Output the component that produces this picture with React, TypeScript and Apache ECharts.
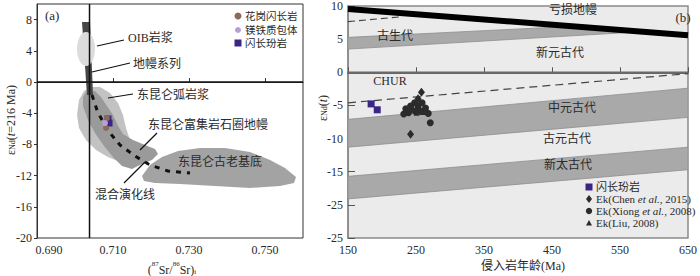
import { useEffect, useRef } from 'react';
import * as echarts from 'echarts';

// ---------- axis ticks ----------
const SR_TICKS = [0.69, 0.71, 0.73, 0.75];
const ENDA_TICKS = [-20, -16, -12, -8, -4, 0, 4, 8];
const AGE_TICKS = [150, 250, 350, 450, 550, 650];
const ENDB_TICKS = [10, 5, 0, -5, -10, -15, -20, -25];
const ENDB_TICK_LABELS = ['10', '5', '0', '-5', '-10', '-15', '-25', '-25'];

// ---------- panel (a): (87Sr/86Sr)i vs eNd ----------
const BULK_EARTH_SR = 0.70382;
const MANTLE_ARRAY = [[0.70184, 7.69], [0.70395, 7.69], [0.70474, -1.67], [0.70316, -1.67]];
const OIB_CENTER = [0.70289, 4.23];
const OIB_RADII = [0.00237, 2.18];
const ARC_MAGMA = [
  [0.70395, -0.64], [0.70658, -0.64], [0.70921, -1.41], [0.71132, -2.69], [0.71263, -4.23],
  [0.71342, -5.9], [0.71447, -7.44], [0.71553, -8.72], [0.71447, -9.74], [0.71184, -10.26],
  [0.70868, -9.62], [0.70553, -8.72], [0.70289, -7.44], [0.70105, -5.9], [0.70053, -4.23],
  [0.70105, -2.31], [0.70237, -1.15],
];
const ENRICHED_MANTLE = [
  [0.70289, -1.28], [0.70526, -1.15], [0.70684, -1.92], [0.70842, -3.08], [0.71, -4.23],
  [0.71132, -5.64], [0.71263, -6.67], [0.71526, -7.44], [0.71842, -8.08], [0.72105, -8.59],
  [0.72184, -9.23], [0.72026, -10.0], [0.71763, -10.51], [0.715, -11.15], [0.71237, -10.77],
  [0.71, -9.62], [0.70763, -8.21], [0.70526, -6.54], [0.70342, -4.87], [0.70211, -3.08],
  [0.70211, -1.92],
];
const BASEMENT = [
  [0.71763, -12.05], [0.71974, -10.64], [0.72289, -9.62], [0.72711, -8.85], [0.73289, -8.46],
  [0.73947, -8.46], [0.74605, -8.97], [0.75132, -10.0], [0.75526, -11.03], [0.75816, -12.18],
  [0.75763, -12.95], [0.75395, -13.33], [0.74605, -13.59], [0.73684, -13.33], [0.72763, -13.08],
  [0.72105, -12.95], [0.71816, -12.69],
];
const MIXING_LINE = [
  [0.70447, -1.67], [0.70579, -3.59], [0.70737, -5.13], [0.70921, -6.54], [0.71184, -8.08],
  [0.71579, -9.49], [0.71974, -10.64], [0.72447, -11.41], [0.73026, -11.67],
];
const LEADER_OIB = [[0.70579, 4.62], [0.71289, 5.38]];
const LEADER_MANTLE = [[0.70447, 1.28], [0.71447, 2.44]];
const LEADER_ARC = [[0.70868, -2.05], [0.71526, -1.54]];
const LEADER_ENRICHED = [[0.71711, -8.72], [0.72158, -6.54]];
const LEADER_MIXING = [[0.71289, -12.95], [0.71842, -10.26]];
const GRANODIORITE = [[0.70842, -4.62], [0.70816, -5.9]];
const MME = [[0.70789, -5.26]];
const DIORITE_A = [[0.70868, -4.74], [0.70895, -5.26]];

// ---------- panel (b): age vs eNd(t) ----------
const DM_LINE = [[150, 9.56], [650, 5.57]];
const DM_LOWER = [[150, 7.64], [229, 8.38]];
const CHUR_LINE = [[150, -4.6], [650, -0.2]];
const ZERO_LINE = [[150, 0], [650, 0]];
const PALEOZOIC = [[150, 5.27], [479, 6.93], [581, 6.12], [150, 3.5]];
const MESOPROTEROZOIC = [[150, -7.1], [650, -2.4], [650, -6.8], [150, -11.3]];
const NEOARCHEAN = [[150, -15.7], [650, -11.3], [650, -14.7], [150, -19.1]];
const DIORITE_B = [[184, -4.77], [193, -5.66]];
const EK_CHEN = [[258, -3.0], [242, -9.35], [253, -4.0], [262, -5.8]];
const EK_XIONG = [
  [235, -5.5], [242, -5.1], [248, -4.6], [253, -5.1], [259, -4.6], [264, -5.4], [268, -6.2],
  [271, -7.6], [239, -6.1], [249, -5.9], [256, -5.8], [243, -5.5], [232, -6.3],
];
const EK_LIU = [[251, -6.1], [259, -6.0]];

const SERIF = "'Liberation Serif', 'Noto Sans CJK SC', serif";
const TXT = '#2a2a2a';

function polygonSeries(pts: number[][], idx: number, fill: string, stroke?: string, z = 1) {
  return {
    type: 'custom',
    xAxisIndex: idx,
    yAxisIndex: idx,
    data: pts,
    silent: true,
    z,
    clip: true,
    renderItem: (params: any, api: any) => {
      if (params.dataIndex !== 0) return null;
      return {
        type: 'polygon',
        shape: { points: pts.map((p) => api.coord(p)) },
        style: { fill, stroke: stroke || 'none', lineWidth: stroke ? 0.8 : 0 },
      };
    },
  };
}

function lineSeries(pts: number[][], idx: number, color: string, width: number, type: any = 'solid', z = 3) {
  return {
    type: 'line',
    xAxisIndex: idx,
    yAxisIndex: idx,
    data: pts,
    symbol: 'none',
    silent: true,
    z,
    lineStyle: { color, width, type, cap: 'butt' },
  };
}

function scatterSeries(pts: number[][], idx: number, symbol: string, size: any, color: string, z = 6) {
  return {
    type: 'scatter',
    xAxisIndex: idx,
    yAxisIndex: idx,
    data: pts,
    symbol,
    symbolSize: size,
    itemStyle: { color, opacity: 1 },
    silent: true,
    z,
  };
}

function txt(x: number, y: number, text: string, size = 12, align = 'left', extra: any = {}) {
  return {
    type: 'text',
    x,
    y,
    z: 100,
    silent: true,
    style: { text, fontSize: size, fontFamily: SERIF, fill: TXT, align, verticalAlign: 'middle', ...extra },
  };
}

export default function App() {
  const ref = useRef<HTMLDivElement>(null);
  useEffect(() => {
    if (!ref.current) return;
    const chart = echarts.init(ref.current, null, { renderer: 'svg' });

    const ellipseSeries = {
      type: 'custom',
      xAxisIndex: 0,
      yAxisIndex: 0,
      data: [OIB_CENTER],
      silent: true,
      z: 2,
      renderItem: (params: any, api: any) => {
        const c = api.coord(OIB_CENTER);
        const s = api.size(OIB_RADII);
        return { type: 'ellipse', shape: { cx: c[0], cy: c[1], rx: s[0], ry: s[1] }, style: { fill: '#dcdcdc' } };
      },
    };

    const axisFont = { fontFamily: SERIF, fontSize: 12, color: TXT };

    const option: any = {
      animation: false,
      grid: [
        { left: 37, top: 4, width: 266, height: 234, show: true, borderColor: '#333', borderWidth: 1, backgroundColor: '#fff' },
        { left: 348, top: 1, width: 348, height: 237, show: true, borderColor: '#8a8a8a', borderWidth: 1.5, backgroundColor: '#ebebeb' },
      ],
      xAxis: [
        {
          type: 'value', gridIndex: 0, min: 0.69, max: 0.76,
          axisLine: { show: true, lineStyle: { color: '#333', width: 1 } },
          axisTick: { show: true, customValues: SR_TICKS, inside: true, length: 4, lineStyle: { color: '#333' } },
          axisLabel: {
            ...axisFont, customValues: SR_TICKS, margin: 6,
            formatter: (v: number) => (Math.abs(v - 0.69) < 1e-6 ? '{f|0.690}' : Number(v).toFixed(3)),
            rich: { f: { ...axisFont, padding: [0, 0, 0, 24] } },
          },
          splitLine: { show: false },
        },
        {
          type: 'value', gridIndex: 1, min: 150, max: 650,
          axisLine: { show: true, lineStyle: { color: '#666', width: 2 } },
          axisTick: { show: true, customValues: AGE_TICKS, inside: true, length: 5, lineStyle: { color: '#555' } },
          axisLabel: { ...axisFont, customValues: AGE_TICKS, margin: 6 },
          splitLine: { show: false },
        },
      ],
      yAxis: [
        {
          type: 'value', gridIndex: 0, min: -20, max: 10,
          axisLine: { show: true, lineStyle: { color: '#333', width: 1 } },
          axisTick: { show: true, customValues: ENDA_TICKS, inside: false, length: 3, lineStyle: { color: '#333' } },
          axisLabel: { ...axisFont, customValues: ENDA_TICKS, margin: 5 },
          splitLine: { show: false },
        },
        {
          type: 'value', gridIndex: 1, min: -25, max: 10,
          axisLine: { show: true, lineStyle: { color: '#888', width: 1.5 } },
          axisTick: { show: true, customValues: ENDB_TICKS, inside: true, length: 7, lineStyle: { color: '#555' } },
          axisLabel: {
            ...axisFont, customValues: ENDB_TICKS, margin: 5,
            formatter: (v: number) => {
              const i = ENDB_TICKS.findIndex((t) => Math.abs(t - v) < 1e-6);
              return i >= 0 ? ENDB_TICK_LABELS[i] : '';
            },
          },
          splitLine: { show: false },
        },
      ],
      series: [
        // panel (a)
        polygonSeries(ARC_MAGMA, 0, '#c2c2c2', undefined, 1),
        polygonSeries(ENRICHED_MANTLE, 0, '#9a9a9a', undefined, 1),
        polygonSeries(BASEMENT, 0, '#a3a3a3', undefined, 1),
        polygonSeries(MANTLE_ARRAY, 0, '#474747', undefined, 1),
        ellipseSeries,
        lineSeries([[BULK_EARTH_SR, -20], [BULK_EARTH_SR, 10]], 0, '#111', 1.5, 'solid', 3),
        lineSeries([[0.69, 0], [0.76, 0]], 0, '#111', 1.3, 'solid', 3),
        lineSeries(MIXING_LINE, 0, '#111', 3, [5, 6], 4),
        lineSeries(LEADER_OIB, 0, '#111', 1.2),
        lineSeries(LEADER_MANTLE, 0, '#111', 1.2),
        lineSeries(LEADER_ARC, 0, '#111', 1.2),
        lineSeries(LEADER_ENRICHED, 0, '#111', 1.2),
        lineSeries(LEADER_MIXING, 0, '#111', 1.2),
        scatterSeries(DIORITE_A, 0, 'rect', 7, '#3b2585', 6),
        scatterSeries(GRANODIORITE, 0, 'circle', 6, '#8a6a5a', 7),
        scatterSeries(MME, 0, 'circle', 6, '#b79fd6', 7),
        // panel (b)
        polygonSeries(PALEOZOIC, 1, '#a9a9a9', '#8e8e8e', 1),
        polygonSeries(MESOPROTEROZOIC, 1, '#a9a9a9', '#8e8e8e', 1),
        polygonSeries(NEOARCHEAN, 1, '#a9a9a9', '#8e8e8e', 1),
        lineSeries(ZERO_LINE, 1, '#6a6a6a', 1.5, 'solid', 2),
        lineSeries(CHUR_LINE, 1, '#444', 1.2, [8, 5], 3),
        lineSeries(DM_LOWER, 1, '#444', 1.1, [7, 4], 3),
        lineSeries(DM_LINE, 1, '#000', 6, 'solid', 4),
        scatterSeries(DIORITE_B, 1, 'rect', 7, '#3b2585', 6),
        scatterSeries(EK_XIONG, 1, 'circle', 7, '#2b2b2b', 6),
        scatterSeries(EK_CHEN, 1, 'diamond', [7, 9], '#2b2b2b', 7),
        scatterSeries(EK_LIU, 1, 'triangle', 6, '#2b2b2b', 7),
      ],
      graphic: [
        // panel (a) texts
        txt(45, 15, '(a)', 13),
        txt(128, 38, 'OIB岩浆', 12),
        txt(133, 64, '地幔系列', 12),
        txt(137, 95, '东昆仑弧岩浆', 12),
        txt(148, 125, '东昆仑富集岩石圈地幔', 12),
        txt(178, 162, '东昆仑古老基底', 12),
        txt(95, 195, '混合演化线', 12),
        { type: 'circle', silent: true, z: 100, shape: { cx: 238, cy: 16, r: 3.5 }, style: { fill: '#8a6a5a' } },
        { type: 'circle', silent: true, z: 100, shape: { cx: 238, cy: 30, r: 3 }, style: { fill: '#b79fd6' } },
        { type: 'rect', silent: true, z: 100, shape: { x: 234.5, y: 39.5, width: 7, height: 7 }, style: { fill: '#3b2585' } },
        txt(245, 16, '花岗闪长岩', 10.5),
        txt(245, 30, '镁铁质包体', 10.5),
        txt(245, 43, '闪长玢岩', 10.5),
        // panel (a) axis names
        {
          type: 'text', silent: true, z: 100, x: 9, y: 120, rotation: Math.PI / 2,
          style: {
            text: '{g|ε}{s|Nd}{g|(}{i|t}{g|=216 Ma)}', align: 'center', verticalAlign: 'middle', fill: TXT,
            rich: {
              g: { fontFamily: SERIF, fontSize: 12, lineHeight: 15, verticalAlign: 'bottom' },
              i: { fontFamily: SERIF, fontSize: 12, lineHeight: 15, fontStyle: 'italic', verticalAlign: 'bottom' },
              s: { fontFamily: SERIF, fontSize: 8, lineHeight: 9, verticalAlign: 'bottom' },
            },
          },
        },
        {
          type: 'text', silent: true, z: 100, x: 172, y: 268,
          style: {
            text: '{g|(}{p|87}{g|Sr/}{p|86}{g|Sr)}{s|i}', align: 'center', verticalAlign: 'middle', fill: TXT,
            rich: {
              g: { fontFamily: SERIF, fontSize: 12, lineHeight: 15, verticalAlign: 'bottom' },
              p: { fontFamily: SERIF, fontSize: 7, lineHeight: 8, verticalAlign: 'top' },
              s: { fontFamily: SERIF, fontSize: 7, lineHeight: 8, verticalAlign: 'bottom' },
            },
          },
        },
        // panel (b) texts
        txt(683, 17, '(b)', 13, 'center'),
        txt(573, 10, '亏损地幔', 12, 'center'),
        txt(395, 36, '古生代', 12, 'center'),
        txt(560, 53, '新元古代', 12, 'center'),
        txt(390, 81, 'CHUR', 12, 'center'),
        txt(572, 108, '中元古代', 12, 'center'),
        txt(567, 139, '古元古代', 12, 'center'),
        txt(568, 165, '新太古代', 12, 'center'),
        // panel (b) legend
        { type: 'rect', silent: true, z: 100, shape: { x: 585.5, y: 183.5, width: 7, height: 7 }, style: { fill: '#3b2585' } },
        { type: 'polygon', silent: true, z: 100, shape: { points: [[589, 195], [592, 199], [589, 203], [586, 199]] }, style: { fill: '#2b2b2b' } },
        { type: 'circle', silent: true, z: 100, shape: { cx: 589, cy: 211, r: 3.2 }, style: { fill: '#2b2b2b' } },
        { type: 'polygon', silent: true, z: 100, shape: { points: [[589, 220], [592, 225.5], [586, 225.5]] }, style: { fill: '#2b2b2b' } },
        txt(596, 187, '闪长玢岩', 11),
        {
          type: 'text', silent: true, z: 100, x: 596, y: 199,
          style: {
            text: '{n|Ek(Chen }{i|et al.}{n|, 2015)}', align: 'left', verticalAlign: 'middle', fill: TXT,
            rich: { n: { fontFamily: SERIF, fontSize: 11 }, i: { fontFamily: SERIF, fontSize: 11, fontStyle: 'italic' } },
          },
        },
        {
          type: 'text', silent: true, z: 100, x: 596, y: 211,
          style: {
            text: '{n|Ek(Xiong }{i|et al.}{n|, 2008)}', align: 'left', verticalAlign: 'middle', fill: TXT,
            rich: { n: { fontFamily: SERIF, fontSize: 11 }, i: { fontFamily: SERIF, fontSize: 11, fontStyle: 'italic' } },
          },
        },
        txt(596, 223, 'Ek(Liu, 2008)', 11),
        // panel (b) axis names
        {
          type: 'text', silent: true, z: 100, x: 321, y: 108, rotation: Math.PI / 2,
          style: {
            text: '{g|ε}{s|Nd}{g|(}{i|t}{g|)}', align: 'center', verticalAlign: 'middle', fill: TXT,
            rich: {
              g: { fontFamily: SERIF, fontSize: 12, lineHeight: 15, verticalAlign: 'bottom' },
              i: { fontFamily: SERIF, fontSize: 12, lineHeight: 15, fontStyle: 'italic', verticalAlign: 'bottom' },
              s: { fontFamily: SERIF, fontSize: 8, lineHeight: 9, verticalAlign: 'bottom' },
            },
          },
        },
        txt(523, 266, '侵入岩年龄(Ma)', 12, 'center'),
      ],
    };

    chart.setOption(option);
    return () => chart.dispose();
  }, []);

  return <div ref={ref} style={{ position: 'fixed', left: 0, top: 0, width: 700, height: 276, background: '#fff' }} />;
}
